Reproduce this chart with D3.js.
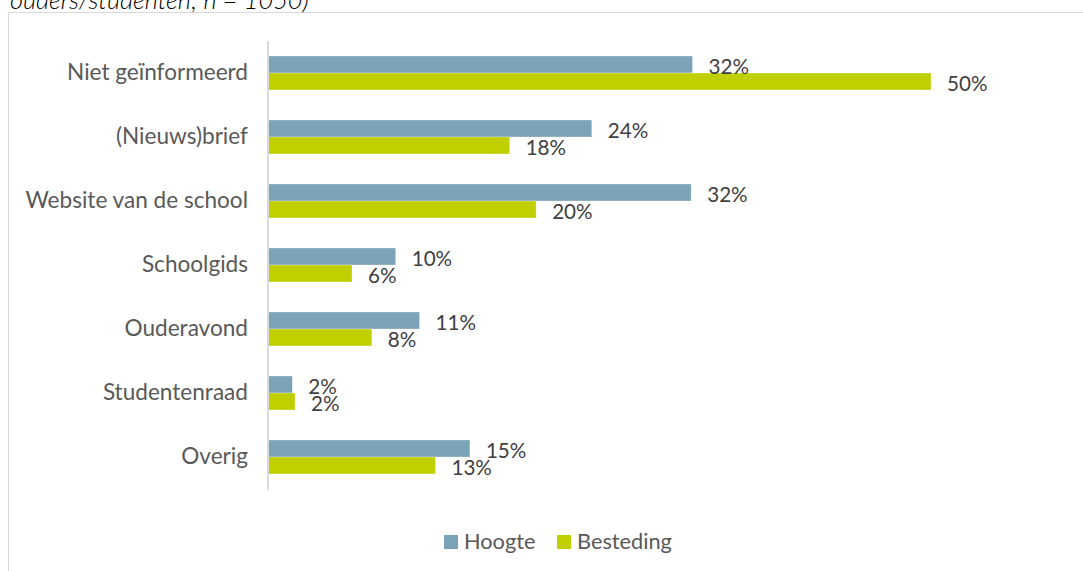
<!DOCTYPE html>
<html><head><meta charset="utf-8">
<script src="https://cdn.jsdelivr.net/npm/d3@7"></script>
<style>html,body{margin:0;padding:0;background:#fff;}svg{display:block;}</style>
</head><body>
<svg id="chart" width="1083" height="571"></svg>
<script>
const categories = ["Niet geïnformeerd","(Nieuws)brief","Website van de school","Schoolgids","Ouderavond","Studentenraad","Overig"];
const seriesNames = ["Hoogte","Besteding"];
const hoogte = [32.0, 24.4, 31.9, 9.6, 11.4, 1.8, 15.2];
const besteding = [50.0, 18.2, 20.2, 6.3, 7.8, 2.0, 12.6];
const titleText = "ouders/studenten; n = 1050)";

const colors = {Hoogte:"#7BA3B7", Besteding:"#C0CF00"};
const svg = d3.select("#chart");
const font = "Lato, 'Open Sans', sans-serif";

// size a font so that a sample string has the wanted width
function fitSize(sample, target, italic){
  const t = svg.append("text").attr("font-family",font).attr("font-size",20)
    .attr("font-style", italic ? "italic" : "normal").text(sample);
  const w = t.node().getComputedTextLength();
  t.remove();
  return 20 * target / w;
}
const catSize = fitSize("Niet geïnformeerd", 181);
const lblSize = fitSize("50%", 40.5);
const legSize = fitSize("Besteding", 95);
const titleSize = fitSize(titleText, 303, true);

// frame
svg.append("rect").attr("x",8.5).attr("y",12.5).attr("width",1100).attr("height",600)
  .attr("fill","#fff").attr("stroke","#d9d9d9").attr("stroke-width",1);

// cut title
svg.append("text").attr("x",10).attr("y",9).text(titleText)
  .attr("font-family",font).attr("font-style","italic").attr("font-weight",300)
  .attr("font-size",titleSize).attr("fill","#000");

const x = d3.scaleLinear().domain([0,60]).range([268.5, 268.5+60*13.25]);
const y = d3.scaleBand().domain(categories).range([41,489]).padding(0);
const ys = d3.scaleBand().domain(seriesNames).range([0,y.bandwidth()]).paddingInner(0).paddingOuter(15/17);

const data = categories.map((c,i)=>({cat:c, values:[{s:"Hoogte",v:hoogte[i]},{s:"Besteding",v:besteding[i]}]}));

const g = svg.append("g");
const groups = g.selectAll("g.cat").data(data).join("g").attr("transform",d=>`translate(0,${y(d.cat)})`);
groups.selectAll("rect").data(d=>d.values).join("rect")
  .attr("x",x(0)).attr("y",d=>ys(d.s)).attr("width",d=>x(d.v)-x(0)).attr("height",ys.bandwidth())
  .attr("fill",d=>colors[d.s]).attr("stroke","#fff").attr("stroke-opacity",0.4).attr("stroke-width",0.75);
groups.selectAll("text.lbl").data(d=>d.values).join("text").attr("class","lbl")
  .attr("x",d=>x(d.v)+16).attr("y",d=>ys(d.s)+ys.bandwidth()/2+1)
  .attr("dominant-baseline","central")
  .attr("font-family",font).attr("font-size",lblSize).attr("fill","#404040")
  .text(d=>Math.round(d.v)+"%");

// y axis
const yAxis = d3.axisLeft(y).tickSize(0).tickPadding(20);
const ax = svg.append("g").attr("transform",`translate(${x(0)-0.5},0)`).call(yAxis);
ax.select(".domain").attr("stroke","#d9d9d9").attr("stroke-width",2).attr("d","M0,41V490");
ax.selectAll("text").attr("font-family",font).attr("font-size",catSize).attr("fill","#595959");

// legend
const legend = svg.append("g");
const legX = [444, 557];
seriesNames.forEach((s,i)=>{
  legend.append("rect").attr("x",legX[i]).attr("y",535).attr("width",14).attr("height",14).attr("fill",colors[s]);
  legend.append("text").attr("x",legX[i]+20).attr("y",549).text(s)
    .attr("font-family",font).attr("font-size",legSize).attr("fill","#595959");
});
</script>
</body></html>
